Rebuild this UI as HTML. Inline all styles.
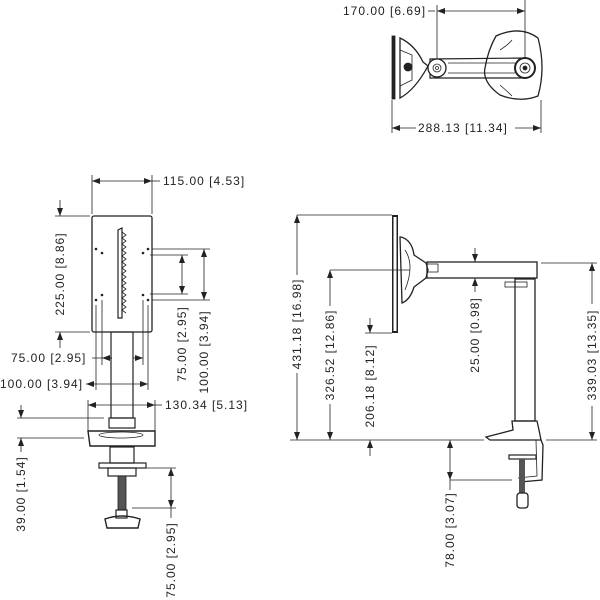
<!DOCTYPE html>
<html><head><style>
body{margin:0;background:#fff}
svg{display:block}
text{font-family:"Liberation Sans",sans-serif;font-size:12px;letter-spacing:1px;fill:#222}
</style></head><body>
<svg width="600" height="600" viewBox="0 0 600 600" xmlns="http://www.w3.org/2000/svg">
<defs>
<marker id="a" markerWidth="8" markerHeight="6" refX="8" refY="3" orient="auto-start-reverse" markerUnits="userSpaceOnUse"><path d="M0,0 L8,3 L0,6z" fill="#222"/></marker>
</defs>
<g stroke="#222" stroke-width="0.8" fill="none">
<!-- TOP VIEW -->
<line x1="437" y1="5" x2="437" y2="66"/><line x1="525" y1="0" x2="525" y2="66"/>
<line x1="437" y1="11" x2="525" y2="11" marker-start="url(#a)" marker-end="url(#a)"/>
<line x1="428" y1="11" x2="435" y2="11"/>
<line x1="392" y1="100" x2="392" y2="133"/><line x1="541" y1="100" x2="541" y2="133"/>
<line x1="392" y1="128" x2="416" y2="128" marker-start="url(#a)"/>
<line x1="515" y1="128" x2="541" y2="128" marker-end="url(#a)"/>
<rect x="392" y="36" width="3" height="63" fill="#222"/>
<path d="M400,38 Q415,45 423,62 L428,66 Q415,90 400,98 Z" stroke-width="1.3"/>
<path d="M400,50 L412,55 L412,80 L400,86" />
<circle cx="408" cy="67" r="4" fill="#222"/>
<path d="M496,36 Q520,25 538,38 Q546,68 538,96 Q520,103 500,95 Q482,82 485,68 Q488,50 496,36Z" stroke-width="1.3"/>
<path d="M500,50 Q508,45 512,40 M500,85 Q508,92 512,96"/>
<path d="M430,59 L525,58 L525,78 L430,78 Z" stroke-width="1.2"/>
<line x1="448" y1="63" x2="515" y2="63"/><line x1="448" y1="73" x2="515" y2="73"/>
<circle cx="437" cy="68" r="9" fill="#fff" stroke-width="1.3"/><circle cx="437" cy="68" r="4"/><circle cx="437" cy="68" r="1.5"/>
<circle cx="525" cy="68" r="10" fill="#fff" stroke-width="2"/><circle cx="525" cy="68" r="5"/><circle cx="525" cy="68" r="2" fill="#222"/>

<!-- LEFT VIEW -->
<line x1="92" y1="175" x2="92" y2="214"/><line x1="152" y1="175" x2="152" y2="214"/>
<line x1="92" y1="181" x2="152" y2="181" marker-start="url(#a)" marker-end="url(#a)"/>
<line x1="152" y1="181" x2="160" y2="181"/>
<line x1="55" y1="216" x2="90" y2="216"/><line x1="55" y1="332" x2="90" y2="332"/>
<line x1="60" y1="200" x2="60" y2="216" marker-end="url(#a)"/>
<line x1="60" y1="348" x2="60" y2="332" marker-end="url(#a)"/>
<rect x="92" y="216" width="60" height="116" rx="2" stroke-width="1.3"/>
<path d="M118,230 L122,228 L122,318 L118,318 Z" stroke-width="1.2"/>
<path d="M122,232 l4,3 -4,3 4,3 -4,3 4,3 -4,3 4,3 -4,3 4,3 -4,3 4,3 -4,3 4,3 -4,3 4,3 -4,3 4,3 -4,3 4,3 -4,3 4,3 -4,3 4,3 -4,3 4,3 -4,3 4,3"/>
<g fill="#222" stroke="none"><circle cx="96" cy="249" r="1.3"/><circle cx="102" cy="253" r="1.3"/><circle cx="143" cy="253" r="1.3"/><circle cx="148" cy="249" r="1.3"/><circle cx="96" cy="300" r="1.3"/><circle cx="102" cy="295" r="1.3"/><circle cx="143" cy="295" r="1.3"/><circle cx="148" cy="300" r="1.3"/></g>
<line x1="152" y1="249" x2="210" y2="249"/><line x1="152" y1="300" x2="210" y2="300"/>
<line x1="150" y1="255" x2="188" y2="255"/><line x1="150" y1="294" x2="188" y2="294"/>
<line x1="182" y1="255" x2="182" y2="294" marker-start="url(#a)" marker-end="url(#a)"/>
<line x1="204" y1="249" x2="204" y2="300" marker-start="url(#a)" marker-end="url(#a)"/>
<line x1="102" y1="300" x2="102" y2="365"/><line x1="143" y1="300" x2="143" y2="365"/>
<line x1="96" y1="305" x2="96" y2="390"/><line x1="148" y1="305" x2="148" y2="390"/>
<line x1="92" y1="358" x2="112" y2="358"/>
<line x1="102" y1="358" x2="112" y2="358" marker-start="url(#a)"/><line x1="133" y1="358" x2="143" y2="358" marker-end="url(#a)"/>
<line x1="86" y1="384" x2="148" y2="384" marker-start="url(#a)" marker-end="url(#a)"/>
<line x1="88" y1="400" x2="88" y2="432"/><line x1="155" y1="400" x2="155" y2="432"/>
<line x1="88" y1="405" x2="155" y2="405" marker-start="url(#a)" marker-end="url(#a)"/>
<line x1="155" y1="405" x2="162" y2="405"/>
<rect x="111" y="332" width="22" height="86" stroke-width="1.2"/>
<rect x="109" y="418" width="26" height="10" stroke-width="1.2"/>
<path d="M88,431 L155,431 L155,446 L90,446 Z" stroke-width="1.4"/>
<ellipse cx="121" cy="435" rx="22" ry="3"/>
<line x1="17" y1="418" x2="104" y2="418"/><line x1="17" y1="438" x2="84" y2="438"/>
<line x1="21" y1="405" x2="21" y2="418" marker-end="url(#a)"/>
<line x1="21" y1="452" x2="21" y2="438" marker-end="url(#a)"/>
<rect x="110" y="447" width="24" height="16" stroke-width="1.2"/>
<rect x="99" y="463" width="47" height="5" stroke-width="1.2"/>
<rect x="108" y="468" width="28" height="8" stroke-width="1.2"/>
<rect x="118" y="476" width="8" height="34" fill="#555"/>
<rect x="116" y="510" width="11" height="8" stroke-width="1.2"/>
<path d="M105,519 Q122,513 140,519 L138,528 L107,528 Z" stroke-width="1.4"/>
<line x1="130" y1="468" x2="176" y2="468"/><line x1="132" y1="508" x2="176" y2="508"/>
<line x1="171" y1="468" x2="171" y2="508" marker-start="url(#a)" marker-end="url(#a)"/>
<line x1="171" y1="508" x2="171" y2="518"/>

<!-- RIGHT VIEW -->
<rect x="392" y="215" width="6" height="118" fill="#222" stroke="none"/>
<rect x="393.5" y="217" width="3" height="114" fill="#fff" stroke="none"/>
<path d="M401,237 Q412,240 414,255 L426,263 L428,270 L426,278 L414,287 Q410,300 402,303 L400,237Z" stroke-width="1.3"/>
<path d="M405,250 Q415,265 405,290"/>
<rect x="427" y="264" width="11" height="8"/>
<rect x="427" y="262" width="110" height="16" stroke-width="1.3"/>
<rect x="505" y="282" width="22" height="5"/>
<rect x="515" y="279" width="20" height="142" stroke-width="1.3"/>
<path d="M512,421 L537,421 L539,430 L541,440 L490,440 L486,437 L513,430 Z" stroke-width="1.3"/>
<path d="M541,440 L543,445 L542,480 L520,482" stroke-width="1.3"/>
<path d="M536,440 L537,476 L518,478"/>
<rect x="509" y="455" width="27" height="4" stroke-width="1.2"/>
<rect x="519" y="459" width="6" height="34" fill="#555" stroke="none"/>
<rect x="517" y="493" width="11" height="15" rx="3" stroke-width="1.3"/>
<line x1="297" y1="215" x2="392" y2="215"/><line x1="290" y1="440" x2="484" y2="440"/>
<line x1="297" y1="215" x2="297" y2="275" marker-start="url(#a)"/><line x1="297" y1="373" x2="297" y2="440" marker-end="url(#a)"/>
<line x1="330" y1="270" x2="410" y2="270"/>
<line x1="330" y1="270" x2="330" y2="306" marker-start="url(#a)"/><line x1="330" y1="404" x2="330" y2="440" marker-end="url(#a)"/>
<line x1="365" y1="333" x2="392" y2="333"/>
<line x1="370" y1="318" x2="370" y2="333" marker-end="url(#a)"/>
<line x1="370" y1="456" x2="370" y2="440" marker-end="url(#a)"/>
<line x1="475" y1="248" x2="475" y2="262" marker-end="url(#a)"/>
<line x1="475" y1="292" x2="475" y2="278" marker-end="url(#a)"/>
<line x1="541" y1="263" x2="597" y2="263"/><line x1="546" y1="440" x2="597" y2="440"/>
<line x1="592" y1="263" x2="592" y2="304" marker-start="url(#a)"/><line x1="592" y1="406" x2="592" y2="440" marker-end="url(#a)"/>
<line x1="450" y1="480" x2="512" y2="480"/>
<line x1="450" y1="440" x2="450" y2="480" marker-start="url(#a)" marker-end="url(#a)"/>
<line x1="450" y1="480" x2="450" y2="490"/>
</g>
<!-- texts -->
<text x="343" y="15">170.00 [6.69]</text>
<text x="418" y="132">288.13 [11.34]</text>
<text x="163" y="185">115.00 [4.53]</text>
<text x="11" y="362">75.00 [2.95]</text>
<text x="0" y="388">100.00 [3.94]</text>
<text x="165" y="409">130.34 [5.13]</text>
<text transform="translate(64,274) rotate(-90)" text-anchor="middle">225.00 [8.86]</text>
<text transform="translate(186,344) rotate(-90)" text-anchor="middle">75.00 [2.95]</text>
<text transform="translate(208,352) rotate(-90)" text-anchor="middle">100.00 [3.94]</text>
<text transform="translate(25,494) rotate(-90)" text-anchor="middle">39.00 [1.54]</text>
<text transform="translate(175,560) rotate(-90)" text-anchor="middle">75.00 [2.95]</text>
<text transform="translate(301,324) rotate(-90)" text-anchor="middle">431.18 [16.98]</text>
<text transform="translate(334,355) rotate(-90)" text-anchor="middle">326.52 [12.86]</text>
<text transform="translate(374,386) rotate(-90)" text-anchor="middle">206.18 [8.12]</text>
<text transform="translate(479,335) rotate(-90)" text-anchor="middle">25.00 [0.98]</text>
<text transform="translate(596,355) rotate(-90)" text-anchor="middle">339.03 [13.35]</text>
<text transform="translate(454,530) rotate(-90)" text-anchor="middle">78.00 [3.07]</text>
</svg>
</body></html>
